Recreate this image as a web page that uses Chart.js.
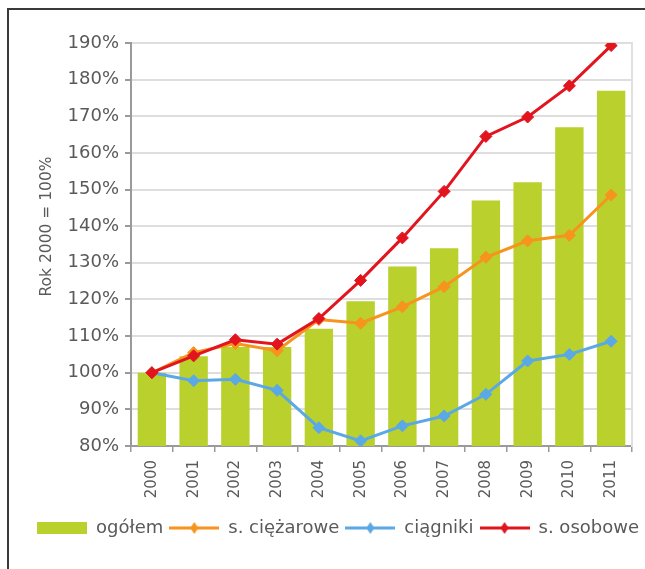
<!DOCTYPE html>
<html>
<head>
<meta charset="utf-8">
<script src="https://cdn.jsdelivr.net/npm/chart.js@4"></script>
<style>
  html, body { margin: 0; padding: 0; background: #fff; }
  body { width: 645px; height: 569px; position: relative; overflow: hidden; }
  #frame { position: absolute; left: 7px; top: 8px; right: 0; bottom: 0;
           border-left: 2px solid #3a3a3a; border-top: 2px solid #3a3a3a; }
  #c { position: absolute; left: 0; top: 0; }
</style>
</head>
<body>
<div id="frame"></div>
<canvas id="c" width="645" height="569"></canvas>
<script>
const years = ['2000','2001','2002','2003','2004','2005','2006','2007','2008','2009','2010','2011'];
const ogolem    = [100, 104.5, 107, 107, 112, 119.5, 129, 134, 147, 152, 167, 177];
const ciezarowe = [100, 105.5, 108, 106, 114.5, 113.5, 118, 123.5, 131.5, 136, 137.5, 148.5];
const ciagniki  = [100, 97.8, 98.2, 95.2, 85, 81.4, 85.5, 88.2, 94.1, 103.2, 105, 108.6];
const osobowe   = [100, 104.6, 109, 107.8, 114.8, 125.2, 136.8, 149.5, 164.5, 169.8, 178.3, 189.3];
const yTitle = 'Rok 2000 = 100%';

const GREEN = '#bad02c', ORANGE = '#f7941e', BLUE = '#5aa9e6', RED = '#e2141e';
const TEXT = '#5a5a5a';
const FONT = 'DejaVu Sans';

function boxSymbol(color) {
  const c = document.createElement('canvas');
  c.width = 50; c.height = 12;
  const x = c.getContext('2d');
  x.fillStyle = color; x.fillRect(0, 0, 50, 12);
  return c;
}
function lineSymbol(color) {
  const c = document.createElement('canvas');
  c.width = 50; c.height = 14;
  const x = c.getContext('2d');
  x.strokeStyle = color; x.lineWidth = 3;
  x.beginPath(); x.moveTo(0, 7); x.lineTo(50, 7); x.stroke();
  x.fillStyle = color;
  x.beginPath(); x.moveTo(25, 1); x.lineTo(29, 7); x.lineTo(25, 13); x.lineTo(21, 7); x.closePath(); x.fill();
  return c;
}

const titlePlugin = {
  id: 'ytitle',
  afterDraw(chart) {
    const ctx = chart.ctx, a = chart.chartArea;
    ctx.save();
    ctx.font = '15.5px "' + FONT + '"';
    ctx.fillStyle = TEXT;
    ctx.textAlign = 'center';
    ctx.textBaseline = 'middle';
    ctx.translate(a.left - 84, (a.top + a.bottom) / 2 - 18);
    ctx.rotate(-Math.PI / 2);
    ctx.fillText(yTitle, 0, 0);
    ctx.restore();
  }
};

const lineDs = (label, data, color, order) => ({
  type: 'line', label, data, order,
  borderColor: color, backgroundColor: color,
  borderWidth: 3, tension: 0,
  pointStyle: 'rectRot', pointRadius: 6, pointBorderWidth: 1,
  pointBackgroundColor: color, pointBorderColor: color
});

new Chart(document.getElementById('c'), {
  data: {
    labels: years,
    datasets: [
      { type: 'bar', label: 'ogółem', data: ogolem, backgroundColor: GREEN, order: 10,
        barPercentage: 0.68, categoryPercentage: 1 },
      lineDs('s. ciężarowe', ciezarowe, ORANGE, 2),
      lineDs('ciągniki', ciagniki, BLUE, 3),
      lineDs('s. osobowe', osobowe, RED, 1)
    ]
  },
  options: {
    responsive: false,
    animation: false,
    layout: { padding: { left: 0, right: 0, top: 43, bottom: 22 } },
    scales: {
      x: {
        offset: true,
        grid: { offset: true, drawOnChartArea: false, tickLength: 6, tickColor: '#9a9a9a', lineWidth: 1.5 },
        border: { color: '#9a9a9a', width: 2 },
        ticks: { minRotation: 90, maxRotation: 90, padding: 8, color: TEXT,
                 font: { family: FONT, size: 15 } },
        afterFit(s) { s.height = 67; }
      },
      y: {
        min: 80, max: 190,
        ticks: { stepSize: 10, padding: 6, color: TEXT, font: { family: FONT, size: 18 },
                 callback: v => v + '%' },
        grid: { color: '#dedede', lineWidth: 2, tickLength: 6, tickColor: '#9a9a9a' },
        border: { color: '#9a9a9a', width: 2 },
        afterFit(s) { s.width = 131; }
      },
      y2: {
        position: 'right', min: 80, max: 190,
        ticks: { display: false },
        grid: { display: false, drawTicks: false },
        border: { color: '#e0e0e0', width: 2 },
        afterFit(s) { s.width = 13; }
      }
    },
    plugins: {
      tooltip: { enabled: false },
      legend: {
        position: 'bottom',
        align: 'end',
        labels: {
          usePointStyle: true, pointStyleWidth: 50, padding: 6,
          color: TEXT, font: { family: FONT, size: 18 },
          generateLabels(chart) {
            const syms = [boxSymbol(GREEN), lineSymbol(ORANGE), lineSymbol(BLUE), lineSymbol(RED)];
            return chart.data.datasets.map((d, i) => ({
              text: d.label, datasetIndex: i, pointStyle: syms[i],
              fillStyle: d.backgroundColor, strokeStyle: d.backgroundColor, lineWidth: 0,
              fontColor: TEXT, hidden: false
            }));
          }
        }
      }
    }
  },
  plugins: [titlePlugin]
});
</script>
</body>
</html>
